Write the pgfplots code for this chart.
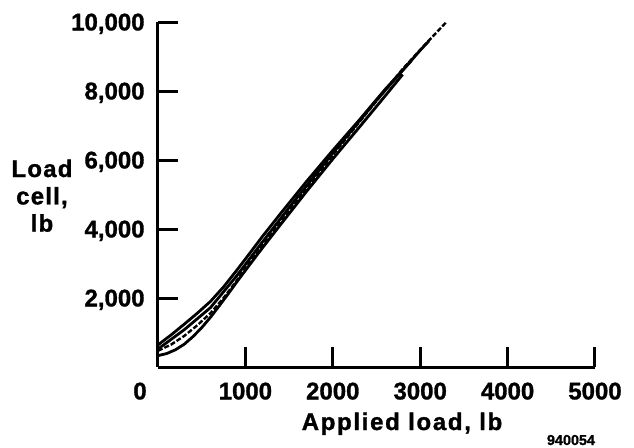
\documentclass[border=0pt]{standalone}
\usepackage{fontspec}
\setmainfont{Liberation Sans}[BoldFeatures={FakeBold=1.2}]
\usepackage{pgfplots}
\pgfplotsset{compat=1.18}
\newcommand{\labfont}{\fontsize{12}{14}\selectfont\bfseries}
\begin{document}
\begin{tikzpicture}
\path[use as bounding box] (-79pt,-40pt) rectangle (238pt,183.5pt);
\begin{axis}[at={(0,0)}, anchor=south west, scale only axis,
  width=218.5pt, height=172.5pt,
  xmin=0, xmax=5000, ymin=0, ymax=10000,
  scaled x ticks=false, scaled y ticks=false,
  axis x line*=bottom, axis y line*=left,
  axis line style={line width=1.5pt, black},
  xtick={1000,2000,3000,4000,5000},
  xticklabels={1000,2000,3000,4000,5000},
  ytick={2000,4000,6000,8000,10000},
  yticklabels={{2,000},{4,000},{6,000},{8,000},{10,000}},
  tick align=inside, major tick length=10pt,
  tick style={line width=1.5pt, black},
  xticklabel style={anchor=center, inner sep=0pt, text depth=0pt, yshift=-12pt, font=\labfont},
  yticklabel style={anchor=east, inner sep=0pt, text depth=0pt, xshift=-6.5pt, font=\labfont},
  clip=false]
% upper solid curve
\addplot[black, line width=1.4pt] coordinates {
(0,640) (150,930) (300,1240) (450,1560) (600,1900) (750,2320) (900,2800) (1000,3130)
(1200,3800) (1400,4440) (1700,5380) (2000,6280) (2300,7150) (2600,8050) (2900,8880)};
% lower solid curve
\addplot[black, line width=1.4pt] coordinates {
(0,330) (100,390) (200,500) (300,660) (400,880) (500,1140) (600,1440) (700,1770)
(800,2110) (900,2460) (1000,2800) (1200,3470) (1400,4120) (1700,5090) (2000,6030)
(2300,6940) (2600,7860) (2800,8480)};
% middle solid curve
\addplot[black, line width=1.4pt] coordinates {
(0,520) (300,1080) (600,1720) (900,2640) (1200,3640) (1500,4620) (2000,6200)
(2500,7730) (2800,8600) (3000,9180) (3100,9450)};
% dashed curve
\addplot[black, line width=1.2pt, dash pattern=on 2.5pt off 1pt] coordinates {
(0,470) (150,650) (300,900) (450,1210) (600,1560) (750,2000) (900,2500) (1000,2880)
(1300,3860) (1600,4840) (2000,6140) (2400,7400) (2800,8640) (3050,9330) (3300,10000)};
\node[font=\labfont, anchor=center, inner sep=0pt, text depth=0pt] at (axis cs:0,0) [xshift=-9pt, yshift=-12pt] {0};
\end{axis}
\node[font=\labfont\addfontfeature{LetterSpace=5}, anchor=base] at (-58pt,95pt) {Load};
\node[font=\labfont\addfontfeature{LetterSpace=5}, anchor=base] at (-58pt,81.3pt) {cell,};
\node[font=\labfont\addfontfeature{LetterSpace=5}, anchor=base] at (-58pt,67.7pt) {lb};
\node[font=\labfont\addfontfeature{LetterSpace=7}, anchor=base] at (122pt,-31.5pt) {Applied load, lb};
\node[font=\fontsize{7.2}{8}\selectfont\bfseries, anchor=base] at (206.5pt,-39pt) {940054};
\end{tikzpicture}
\end{document}
